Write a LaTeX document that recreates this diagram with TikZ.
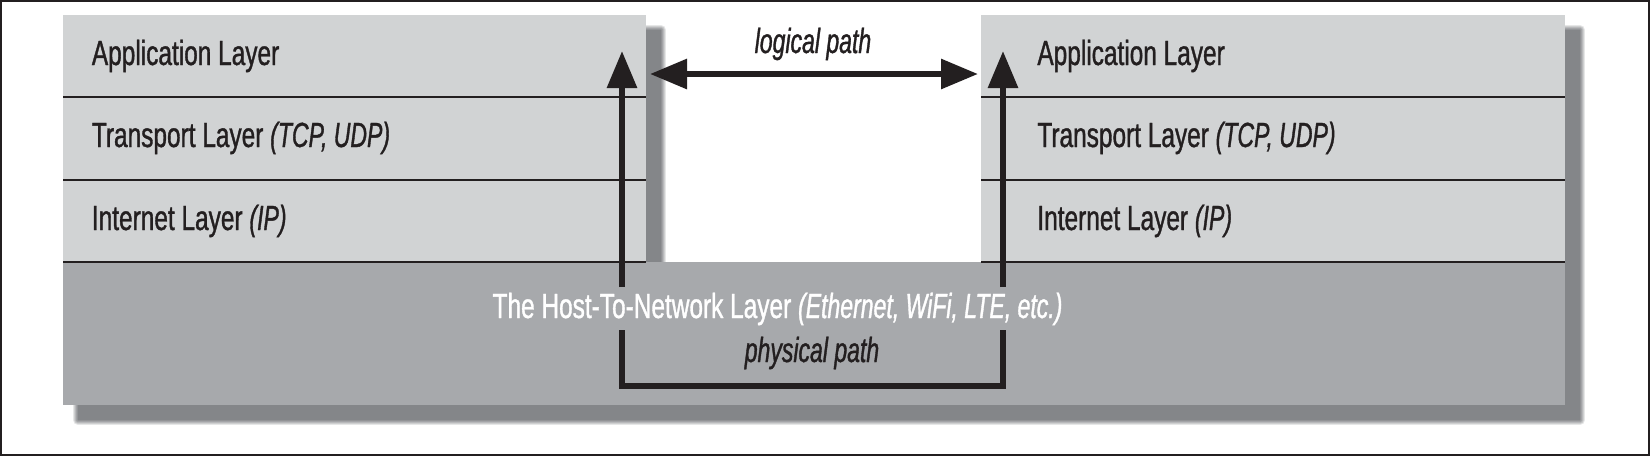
\documentclass[tikz,border=0pt]{standalone}
\usepackage{fontspec}
\setmainfont{Liberation Sans}[FakeStretch=0.7, FakeBold=1]
\newfontfamily\itf{Liberation Sans Italic}[FakeStretch=0.66, FakeBold=1]
\usetikzlibrary{arrows.meta}
\definecolor{lightlayer}{RGB}{209,211,212}
\definecolor{darklayer}{RGB}{167,169,172}
\definecolor{shadowgray}{RGB}{132,134,137}
\definecolor{ink}{RGB}{35,31,32}
\newcommand{\ital}[1]{{\itf #1}}
\begin{document}
\begin{tikzpicture}[x=0.5pt,y=-0.5pt,
  lbl/.style={anchor=base west, inner sep=0pt, text=ink, font=\fontsize{17.45}{20}\selectfont},
  ctr/.style={anchor=base, inner sep=0pt, text=ink, font=\fontsize{17.45}{20}\selectfont},
  divider/.style={ink, line width=1pt},
  pathline/.style={ink, line width=3pt},
  tip/.tip={Triangle[length=18.5pt,width=14.5pt]}]
\useasboundingbox (0,0) rectangle (1650,456);
% shadow
\begin{scope}[shift={(15,15)}]
\foreach \w/\o in {10/0.2, 8/0.25, 6/0.3, 4/0.4, 2/0.5} {
  \draw[shadowgray, line width=\w*0.5pt, opacity=\o, line join=round]
    (63,15) -- (646,15) -- (646,262) -- (981,262) -- (981,15) -- (1565,15) -- (1565,405) -- (63,405) -- cycle;
}
\fill[shadowgray] (63,15) -- (646,15) -- (646,262) -- (981,262) -- (981,15) -- (1565,15) -- (1565,405) -- (63,405) -- cycle;
\end{scope}
% stacks
\fill[lightlayer] (63,15) rectangle (646,262);
\fill[lightlayer] (981,15) rectangle (1565,262);
\fill[darklayer] (63,262) rectangle (1565,405);
\foreach \yy in {97,180,262} {
  \draw[divider] (63,\yy) -- (646,\yy);
  \draw[divider] (981,\yy) -- (1565,\yy);
}
% labels
\node[lbl] (app1) at (91.5,65) {Application Layer};
\node[lbl] (tr1) at (91.5,147) {Transport Layer \ital{(TCP, UDP)}};
\node[lbl] (in1) at (91.5,230) {Internet Layer \ital{(IP)}};
\node[lbl] (app2) at (1037,65) {Application Layer};
\node[lbl] (tr2) at (1037,147) {Transport Layer \ital{(TCP, UDP)}};
\node[lbl] (in2) at (1037,230) {Internet Layer \ital{(IP)}};
\node[ctr, text=white] (host) at (777.5,318) {The Host-To-Network Layer \ital{(Ethernet, WiFi, LTE, etc.)}};
\node[ctr] (logical) at (813,53) {\ital{logical path}};
\node[ctr] (physical) at (812,362) {\ital{physical path}};
% path coordinates
\coordinate (lb) at (622,287);
\coordinate (lt) at (622,51);
\coordinate (rb) at (1003,287);
\coordinate (rt) at (1003,51);
\coordinate (pl) at (622,330);
\coordinate (pr) at (1003,330);
\coordinate (bl) at (622,386);
\coordinate (br) at (1003,386);
\coordinate (ll) at (650,74);
\coordinate (lr) at (978,74);
% arrows
\draw[pathline, -tip] (lb) -- (lt);
\draw[pathline, -tip] (rb) -- (rt);
\draw[pathline, tip-tip] (ll) -- (lr);
\draw[pathline, line join=miter] (pl) -- (bl) -- (br) -- (pr);
% frame
\draw[ink, line width=1pt] (1,1) rectangle (1649,455);
\end{tikzpicture}
\end{document}
